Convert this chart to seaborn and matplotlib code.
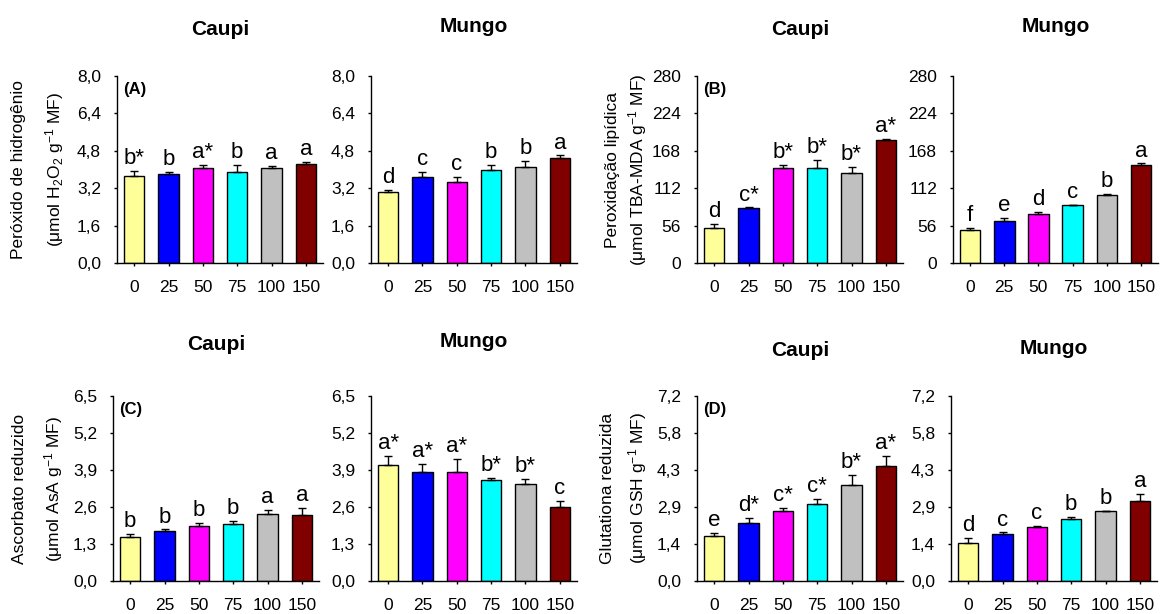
import matplotlib
matplotlib.use("Agg")
import matplotlib.pyplot as plt
import numpy as np
import pandas as pd
import seaborn as sns

doses = ["0", "25", "50", "75", "100", "150"]
colors = ["#FFFF99", "#0000FF", "#FF00FF", "#00FFFF", "#C0C0C0", "#800000"]

# (A) peroxido de hidrogenio
h2o2_caupi = [3.71, 3.82, 4.05, 3.91, 4.08, 4.24]
h2o2_caupi_err = [0.21, 0.06, 0.16, 0.30, 0.09, 0.07]
h2o2_caupi_let = ["b*", "b", "a*", "b", "a", "a"]
h2o2_mungo = [3.05, 3.70, 3.47, 3.97, 4.12, 4.50]
h2o2_mungo_err = [0.06, 0.20, 0.23, 0.22, 0.23, 0.10]
h2o2_mungo_let = ["d", "c", "c", "b", "b", "a"]

# (B) peroxidacao lipidica
mda_caupi = [52.0, 81.7, 142.3, 142.3, 135.3, 183.6]
mda_caupi_err = [6.5, 1.5, 4.5, 12.5, 8.5, 2.0]
mda_caupi_let = ["d", "c*", "b*", "b*", "b*", "a*"]
mda_mungo = [49.7, 62.7, 73.3, 86.3, 101.4, 146.0]
mda_mungo_err = [3.0, 5.0, 3.5, 1.0, 2.0, 3.0]
mda_mungo_let = ["f", "e", "d", "c", "b", "a"]

# (C) ascorbato reduzido
asa_caupi = [1.56, 1.75, 1.95, 2.00, 2.37, 2.33]
asa_caupi_err = [0.08, 0.06, 0.08, 0.12, 0.12, 0.23]
asa_caupi_let = ["b", "b", "b", "b", "a", "a"]
asa_mungo = [4.07, 3.83, 3.82, 3.55, 3.41, 2.59]
asa_mungo_err = [0.31, 0.29, 0.48, 0.06, 0.17, 0.22]
asa_mungo_let = ["a*", "a*", "a*", "b*", "b*", "c"]

# (D) glutationa reduzida
gsh_caupi = [1.75, 2.24, 2.74, 3.01, 3.75, 4.48]
gsh_caupi_err = [0.12, 0.23, 0.12, 0.19, 0.37, 0.38]
gsh_caupi_let = ["e", "d*", "c*", "c*", "b*", "a*"]
gsh_mungo = [1.48, 1.84, 2.10, 2.43, 2.71, 3.13]
gsh_mungo_err = [0.18, 0.05, 0.06, 0.08, 0.03, 0.25]
gsh_mungo_let = ["d", "c", "c", "b", "b", "a"]

sns.set_style("ticks")
plt.rcParams["font.family"] = ["Liberation Sans", "DejaVu Sans"]
plt.rcParams["mathtext.default"] = "regular"
plt.rcParams["text.color"] = "black"
plt.rcParams["axes.labelcolor"] = "black"
plt.rcParams["xtick.color"] = "black"
plt.rcParams["ytick.color"] = "black"
plt.rcParams["axes.edgecolor"] = "black"

W, H = 1162, 614
fig = plt.figure(figsize=(W / 100, H / 100), dpi=100)


def px_axes(x0, y0, x1, y1):
    return fig.add_axes([x0 / W, 1 - y1 / H, (x1 - x0) / W, (y1 - y0) / H])


def panel(ax, vals, errs, lets, ymax, ticks, ticklabels, title, tpad, tag=None):
    df = pd.DataFrame({"dose": doses, "val": vals})
    sns.barplot(data=df, x="dose", y="val", hue="dose", palette=colors,
                saturation=1, width=0.6, edgecolor="black", linewidth=1,
                errorbar=None, legend=False, ax=ax)
    x = np.arange(len(vals))
    ax.errorbar(x, vals, yerr=[np.zeros(len(errs)), errs], fmt="none",
                ecolor="black", elinewidth=1, capsize=3, capthick=1)
    for xi, v, e, l in zip(x, vals, errs, lets):
        ax.text(xi, v + e + ymax * 0.01, l, ha="center", va="bottom",
                fontsize=16)
    ax.set_xlim(-0.5, 5.5)
    ax.set_ylim(0, ymax)
    ax.set_yticks(ticks)
    ax.set_yticklabels(ticklabels)
    ax.tick_params(axis="both", labelsize=12.5, length=2.5, width=1)
    ax.tick_params(axis="y", pad=9)
    ax.tick_params(axis="x", pad=10)
    ax.set_xlabel("")
    ax.set_ylabel("")
    sns.despine(ax=ax)
    for s in ["left", "bottom"]:
        ax.spines[s].set_linewidth(1)
    ax.set_title(title, fontsize=15, fontweight="bold", pad=tpad)
    if tag:
        ax.text(0.03, 0.97, tag, transform=ax.transAxes, fontsize=12,
                fontweight="bold", va="top", ha="left")


def ylabel2(lines, xs, rows):
    yc = 1 - (rows[0] + rows[1]) / 2 / H
    for s, xp in zip(lines, xs):
        fig.text(xp / W, yc, s, rotation=90, ha="center", va="center",
                 fontsize=12.5)


t8 = np.linspace(0, 8, 6)
l8 = ["0,0", "1,6", "3,2", "4,8", "6,4", "8,0"]
t280 = np.linspace(0, 280, 6)
l280 = ["0", "56", "112", "168", "224", "280"]
t65 = np.linspace(0, 6.5, 6)
l65 = ["0,0", "1,3", "2,6", "3,9", "5,2", "6,5"]
t72 = np.linspace(0, 7.2, 6)
l72 = ["0,0", "1,4", "2,9", "4,3", "5,8", "7,2"]

r1 = (76, 263)
r2 = (396, 581)

ax = px_axes(117, r1[0], 323, r1[1])
panel(ax, h2o2_caupi, h2o2_caupi_err, h2o2_caupi_let, 8, t8, l8, "Caupi", 29.5, "(A)")
ylabel2(["Peróxido de hidrogênio", "(μmol H$_2$O$_2$ g$^{-1}$ MF)"], [19, 55], r1)
ax = px_axes(371, r1[0], 577, r1[1])
panel(ax, h2o2_mungo, h2o2_mungo_err, h2o2_mungo_let, 8, t8, l8, "Mungo", 31.5)

ax = px_axes(697, r1[0], 903, r1[1])
panel(ax, mda_caupi, mda_caupi_err, mda_caupi_let, 280, t280, l280, "Caupi", 29.5, "(B)")
ylabel2(["Peroxidação lipídica", "(μmol TBA-MDA g$^{-1}$ MF)"], [612, 638], r1)
ax = px_axes(953, r1[0], 1158, r1[1])
panel(ax, mda_mungo, mda_mungo_err, mda_mungo_let, 280, t280, l280, "Mungo", 31.5)

ax = px_axes(113, r2[0], 319, r2[1])
panel(ax, asa_caupi, asa_caupi_err, asa_caupi_let, 6.5, t65, l65, "Caupi", 33, "(C)")
ylabel2(["Ascorbato reduzido", "(μmol AsA g$^{-1}$ MF)"], [20, 54], r2)
ax = px_axes(371, r2[0], 577, r2[1])
panel(ax, asa_mungo, asa_mungo_err, asa_mungo_let, 6.5, t65, l65, "Mungo", 35)

ax = px_axes(697, r2[0], 903, r2[1])
panel(ax, gsh_caupi, gsh_caupi_err, gsh_caupi_let, 7.2, t72, l72, "Caupi", 29, "(D)")
ylabel2(["Glutationa reduzida", "(μmol GSH g$^{-1}$ MF)"], [607, 638], r2)
ax = px_axes(951, r2[0], 1157, r2[1])
panel(ax, gsh_mungo, gsh_mungo_err, gsh_mungo_let, 7.2, t72, l72, "Mungo", 30)

fig.savefig("out.png", dpi=100)
